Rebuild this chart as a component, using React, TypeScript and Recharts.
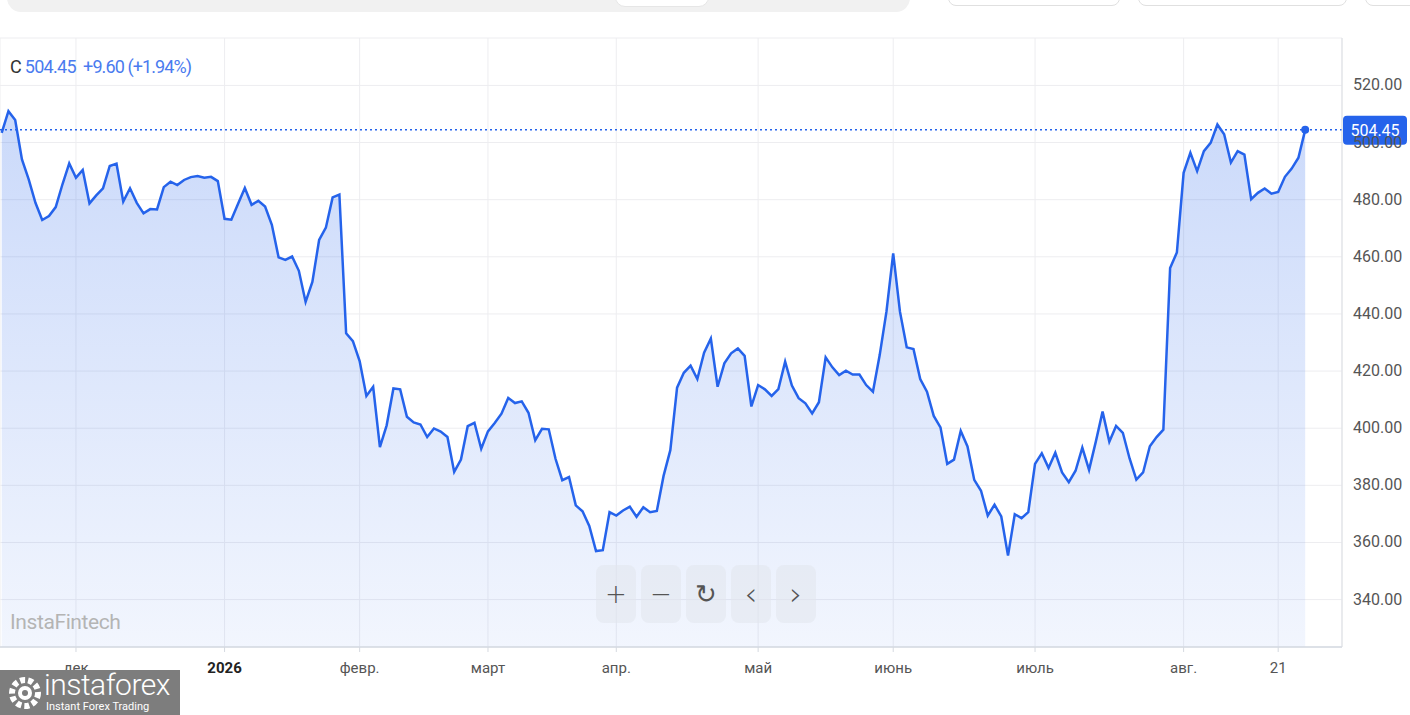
import React from 'react';
import {
  ComposedChart,
  Area,
  XAxis,
  YAxis,
  CartesianGrid,
  ReferenceLine,
  ReferenceDot,
} from 'recharts';

// daily closes
const prices = [
  503.4, 511.0, 507.9, 494.1, 487.1, 478.9, 472.9, 474.3, 477.4, 485.4,
  492.7, 487.7, 490.4, 478.7, 481.5, 484.0, 491.8, 492.6, 479.3, 484.0,
  478.9, 475.2, 476.7, 476.6, 484.4, 486.3, 485.1, 486.9, 487.9, 488.3,
  487.7, 488.0, 486.5, 473.3,
  473.0, 478.6, 484.1, 478.2, 479.6, 477.6, 471.2, 459.8, 458.9, 460.1,
  455.1, 444.2, 451.2, 465.9, 470.2, 480.8, 481.8, 433.2, 430.5, 423.5,
  411.3, 414.5, 393.4, 401.0, 413.9, 413.6, 404.0, 402.0, 401.3, 396.9,
  399.9, 398.8,
  396.9, 384.7, 389.0, 400.7, 401.9, 392.8, 398.9, 401.8, 405.1, 410.6,
  408.8, 409.4, 405.4, 395.8, 399.8, 399.6, 389.3, 381.8, 382.9, 373.0,
  370.9, 365.8, 357.0, 357.3, 370.6, 369.4, 371.2, 372.5, 369.0, 372.3,
  370.6, 371.0, 383.3, 392.3,
  414.2, 419.4, 421.9, 417.2, 426.4, 431.4, 414.5, 422.7, 426.2, 427.9,
  425.3, 407.6, 415.1, 413.6, 411.3, 413.7, 423.3, 414.9, 410.5, 408.7,
  405.2, 409.1, 424.8, 421.3, 418.6, 420.1, 418.8, 418.8, 415.1, 412.8,
  425.6,
  440.8, 461.2, 440.8, 428.3, 427.7, 417.2, 412.8, 404.3, 400.3, 387.5,
  389.0, 399.0, 393.6, 381.9, 378.1, 369.4, 373.2, 369.1, 355.4, 369.9,
  368.5, 370.6, 387.5, 391.2, 386.1, 391.4, 384.5, 381.1, 385.1, 393.2,
  385.4, 395.3, 405.8, 395.3,
  400.8, 398.4, 389.4, 382.0, 384.5, 393.7, 396.9, 399.5, 456.1, 461.5,
  489.4, 496.4, 490.0, 497.0, 499.9, 506.3, 502.9, 493.0, 497.0, 495.8,
  480.2, 482.4, 483.9, 482.1, 482.7, 488.0, 490.9, 494.7, 504.45,
];

const tickIndex = [11, 33, 53, 72, 91, 112, 132, 153, 175, 189];
const tickLabels = ['дек', '2026', 'февр.', 'март', 'апр.', 'май', 'июнь', 'июль', 'авг.', '21'];
const priceTicks = [340, 360, 380, 400, 420, 440, 460, 480, 500, 520];

const lastPrice = 504.45;
const change = '+9.60';
const changePct = '(+1.94%)';

const BLUE = '#2563eb';
const FONT = 'Roboto, "Open Sans", sans-serif';

const data = prices.map((p, i) => ({ i, p }));

function DateTick({ x, y, payload }: any) {
  const pos = tickIndex.indexOf(payload.value);
  const label = tickLabels[pos] ?? '';
  return (
    <text
      x={x}
      y={y + 19}
      textAnchor="middle"
      fontSize={15}
      fontFamily={FONT}
      fontWeight={label === '2026' ? 700 : 400}
      fill={label === '2026' ? '#222' : '#555'}
    >
      {label}
    </text>
  );
}

function PriceTick({ x, y, payload }: any) {
  return (
    <text x={x} y={y} dy={5} textAnchor="start" fontSize={16} fontFamily={FONT} fill="#555">
      {payload.value.toFixed(2)}
    </text>
  );
}

function Badge({ viewBox }: any) {
  if (!viewBox) return null;
  const bx = viewBox.x + viewBox.width + 1;
  const by = viewBox.y;
  return (
    <g>
      <rect x={bx} y={by - 14} width={64} height={29} rx={4} fill={BLUE} />
      <text x={bx + 32} y={by + 6} textAnchor="middle" fontSize={16} fontFamily={FONT} fill="#fff">
        {lastPrice.toFixed(2)}
      </text>
    </g>
  );
}

const navBtn: React.CSSProperties = {
  position: 'absolute',
  top: 565,
  width: 40,
  height: 58,
  borderRadius: 8,
  background: 'rgba(226,229,236,0.55)',
  color: '#555',
  fontSize: 26,
  display: 'flex',
  alignItems: 'center',
  justifyContent: 'center',
  fontFamily: '"DejaVu Sans", sans-serif',
  fontWeight: 200,
};

export default function App() {
  return (
    <div
      style={{
        position: 'absolute',
        left: 0,
        top: 0,
        width: 1410,
        height: 715,
        overflow: 'hidden',
        background: '#fff',
        fontFamily: FONT,
      }}
    >
      {/* toolbar remnants at the top */}
      <div style={{ position: 'absolute', left: 7, top: -20, width: 903, height: 32, background: '#f1f1f1', borderRadius: 14 }} />
      <div style={{ position: 'absolute', left: 615, top: -20, width: 92, height: 25, background: '#fff', border: '1px solid #e6e6e6', borderRadius: 10 }} />
      <div style={{ position: 'absolute', left: 948, top: -20, width: 170, height: 24, border: '1px solid #e0e0e0', borderRadius: 8 }} />
      <div style={{ position: 'absolute', left: 1138, top: -20, width: 207, height: 24, border: '1px solid #e0e0e0', borderRadius: 8 }} />
      <div style={{ position: 'absolute', left: 1365, top: -20, width: 60, height: 24, border: '1px solid #e0e0e0', borderRadius: 8 }} />

      <ComposedChart
        width={1410}
        height={715}
        data={data}
        margin={{ top: 38, right: 0, bottom: 0, left: 0 }}
      >
        <defs>
          <linearGradient id="fillGrad" x1="0" y1="0" x2="0" y2="1">
            <stop offset="0%" stopColor={BLUE} stopOpacity={0.24} />
            <stop offset="100%" stopColor={BLUE} stopOpacity={0.06} />
          </linearGradient>
        </defs>
        <CartesianGrid stroke="#ededf0" />
        <XAxis
          dataKey="i"
          type="number"
          domain={[-0.25, 198.45]}
          allowDataOverflow
          ticks={tickIndex}
          interval={0}
          height={68}
          tick={<DateTick />}
          tickSize={5}
          tickLine={{ stroke: '#d5d9e0' }}
          axisLine={{ stroke: '#d5dae2', strokeWidth: 1.5 }}
        />
        <YAxis
          orientation="right"
          type="number"
          domain={[323.4, 536.6]}
          allowDataOverflow
          ticks={priceTicks}
          width={68}
          tickLine={false}
          tickSize={0}
          tickMargin={11}
          tick={<PriceTick />}
          axisLine={{ stroke: '#dcdfe4' }}
        />
        <Area
          type="linear"
          dataKey="p"
          stroke={BLUE}
          strokeWidth={2.5}
          fill="url(#fillGrad)"
          fillOpacity={1}
          dot={false}
          activeDot={false}
          isAnimationActive={false}
        />
        <ReferenceLine
          y={lastPrice}
          stroke={BLUE}
          strokeWidth={1.5}
          strokeDasharray="2 3"
          label={<Badge />}
        />
        <ReferenceDot x={prices.length - 1} y={lastPrice} r={4} fill={BLUE} stroke="none" />
      </ComposedChart>

      {/* legend line */}
      <div style={{ position: 'absolute', left: 10, top: 56, fontSize: 18, letterSpacing: -0.7, whiteSpace: 'nowrap' }}>
        <span style={{ color: '#333' }}>C </span>
        <span style={{ color: '#4a7bef' }}>{lastPrice.toFixed(2)}</span>
        <span style={{ color: '#4a7bef', letterSpacing: -0.9 }}>&nbsp; {change} {changePct}</span>
      </div>

      {/* watermark */}
      <div style={{ position: 'absolute', left: 10, top: 610, fontSize: 21, color: '#b4b4b4', letterSpacing: -0.4 }}>
        InstaFintech
      </div>

      {/* navigation buttons */}
      <div style={{ ...navBtn, left: 596 }}>+</div>
      <div style={{ ...navBtn, left: 641 }}>−</div>
      <div style={{ ...navBtn, left: 686 }}>↻</div>
      <div style={{ ...navBtn, left: 731, fontSize: 32 }}>‹</div>
      <div style={{ ...navBtn, left: 776, fontSize: 32 }}>›</div>

      {/* logo */}
      <div style={{ position: 'absolute', left: 0, top: 670, width: 180, height: 45, background: '#7d7d7d', color: '#fff' }}>
        <svg width={40} height={40} style={{ position: 'absolute', left: 5, top: 3 }}>
          <circle cx={20} cy={20} r={13} fill="none" stroke="#fff" strokeWidth={6} strokeDasharray="5 3" />
          <circle cx={20} cy={20} r={7} fill="#fff" />
          <circle cx={20} cy={20} r={3} fill="#7d7d7d" />
        </svg>
        <div style={{ position: 'absolute', left: 44, top: 1, fontSize: 30, lineHeight: '28px', letterSpacing: -0.5, fontWeight: 300 }}>instaforex</div>
        <div style={{ position: 'absolute', left: 46, top: 31, fontSize: 11, lineHeight: '12px' }}>Instant Forex Trading</div>
      </div>
    </div>
  );
}
